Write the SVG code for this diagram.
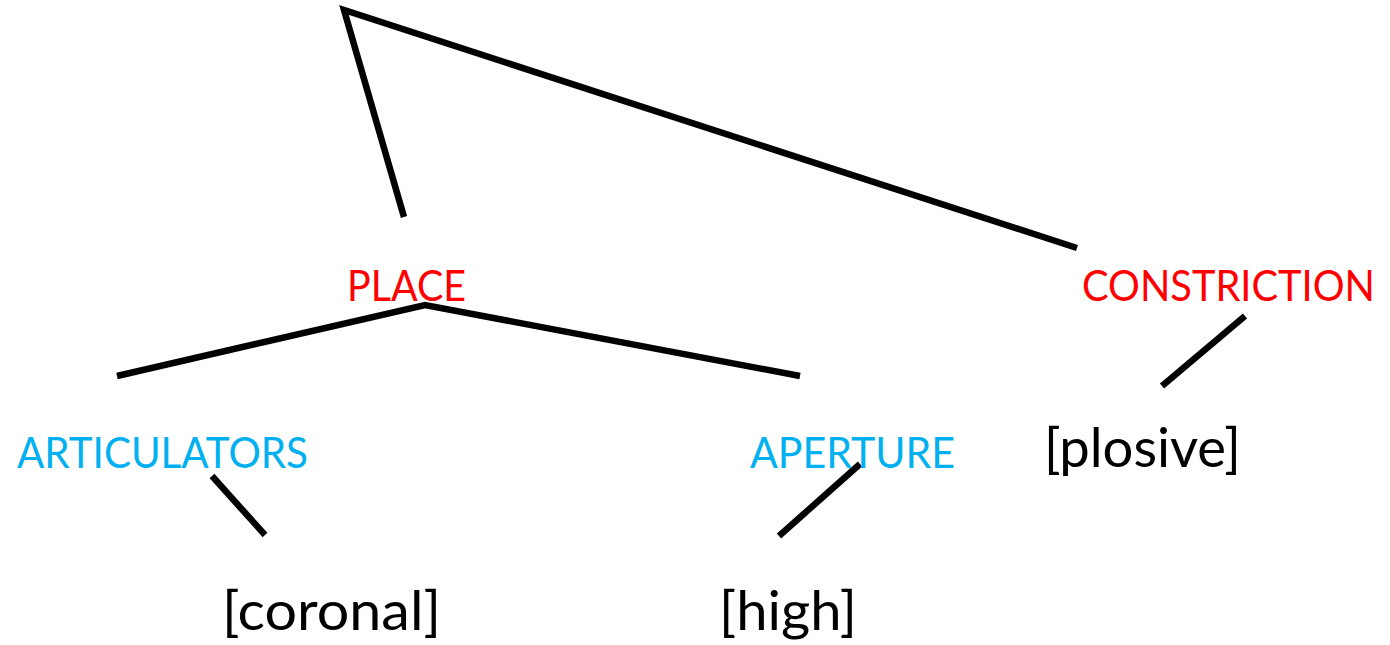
<svg xmlns="http://www.w3.org/2000/svg" width="1390" height="645" viewBox="0 0 1390 645">
<style>
text{font-family:Lato,"Open Sans","Liberation Sans",sans-serif;}
.red{fill:#FF0000;font-size:43px;}
.blue{fill:#00B0F0;font-size:43px;}
.blk{fill:#000000;font-size:54px;}
.edge{stroke:#000;stroke-width:6.5;fill:none;stroke-linecap:butt;}
</style>
<rect width="1390" height="645" fill="#ffffff"/>
<g id="connectors">
<polyline class="edge" points="404,217 344,10 1077,248"/>
<polyline class="edge" points="117,376 425,305 800,376"/>
<line class="edge" x1="212" y1="476" x2="265" y2="535"/>
<line class="edge" x1="860" y1="464" x2="779" y2="536"/>
<line class="edge" x1="1245" y1="316" x2="1162" y2="386"/>
</g>
<g id="place"><text class="red" x="347" y="301" textLength="119" lengthAdjust="spacingAndGlyphs">PLACE</text></g>
<g id="constriction"><text class="red" x="1082" y="301" textLength="293" lengthAdjust="spacingAndGlyphs">CONSTRICTION</text></g>
<g id="articulators"><text class="blue" x="17" y="468" textLength="291" lengthAdjust="spacingAndGlyphs">ARTICULATORS</text></g>
<g id="aperture"><text class="blue" x="750" y="468" textLength="205" lengthAdjust="spacingAndGlyphs">APERTURE</text></g>
<g id="plosive"><text class="blk" x="1044" y="467" textLength="197" lengthAdjust="spacingAndGlyphs">[plosive]</text></g>
<g id="coronal"><text class="blk" x="222" y="630" textLength="219" lengthAdjust="spacingAndGlyphs">[coronal]</text></g>
<g id="high"><text class="blk" x="719" y="630" textLength="138" lengthAdjust="spacingAndGlyphs">[high]</text></g>
</svg>
